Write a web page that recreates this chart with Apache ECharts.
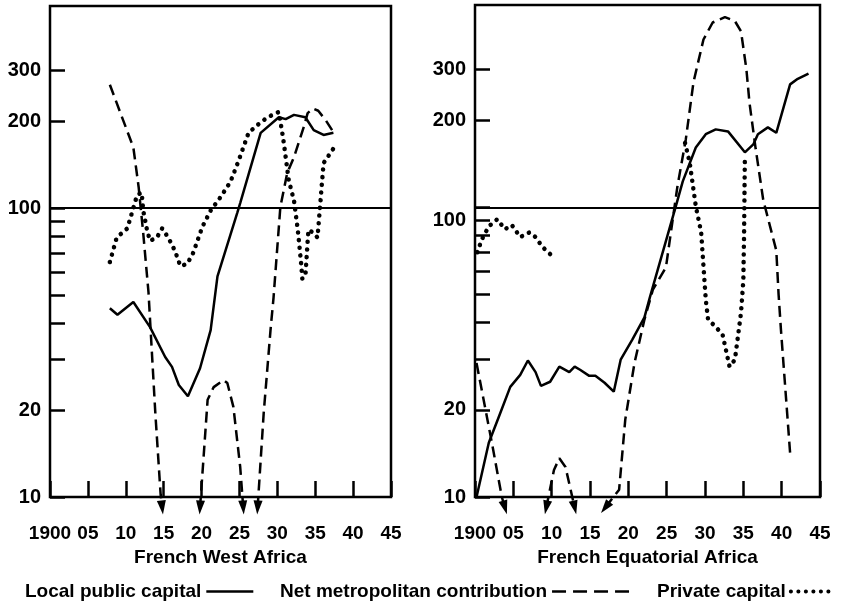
<!DOCTYPE html>
<html>
<head>
<meta charset="utf-8">
<script src="https://cdn.jsdelivr.net/npm/echarts@6/dist/echarts.min.js"></script>
<style>
html, body { margin: 0; padding: 0; background: #fff; }
#chart { width: 844px; height: 603px; }
</style>
</head>
<body>
<div id="chart"></div>
<script>
// 数据 [年份, 指数] ----------------
// French West Africa
var fwaLocal = [[1907.9,45],[1908.9,42.7],[1911,47.3],[1913.2,38.7],[1915.2,30.5],[1916.1,28.2],[1917,24.4],
	[1918.2,22.3],[1919.8,27.9],[1921.2,37.8],[1922.1,58],[1924.7,96],[1925.1,104],[1927.8,182],[1930.2,206],
	[1931.1,203],[1932.2,210],[1933.7,206],[1934.8,186],[1936.1,179],[1937.4,182]];
var fwaMetro1 = [[1907.9,267],[1911,162],[1911.7,118],[1912.3,82],[1913,51],[1913.9,19.5],[1914.6,10.2],[1914.8,9.2]];
var fwaMetro2 = [[1919.8,9.2],[1920.8,21.7],[1921.6,24],[1922.9,25.4],[1923.4,24.8],[1924.2,20.5],[1925.1,12.7],[1925.5,9.2]];
var fwaMetro3 = [[1927.4,9.2],[1928.2,19.5],[1929.1,37.8],[1929.5,49],[1930.4,101],[1931.3,132],[1932.2,150],
	[1933.5,191],[1934,213],[1934.7,221],[1935.4,217],[1936.4,201],[1937.4,183]];
var fwaPrivate = [[1907.9,65],[1908.8,79],[1910.2,85],[1910.8,96],[1911.5,111],[1912.1,113],[1912.3,98],[1912.8,84],
	[1913.2,77],[1914.1,79],[1914.8,85],[1915.6,79],[1916.5,71],[1917.2,63],[1918.1,64],[1918.9,70],[1920.1,86],
	[1921.2,98],[1922.5,109],[1923.8,123],[1924.9,146],[1926.2,182],[1927.4,194],[1928.7,206],[1930.2,215],
	[1930.8,172],[1931.5,125],[1932.2,106],[1932.7,84],[1933.1,66],[1933.3,57],[1933.7,58],[1934.1,84],
	[1934.8,82],[1935.3,79],[1935.7,106],[1936.1,143],[1937.5,162]];

// French Equatorial Africa
var feaLocal = [[1900.2,10],[1901.8,15.4],[1903.1,18.9],[1904.6,24],[1905.9,26.4],[1906.9,29.6],[1907.9,27],
	[1908.6,24.2],[1909.8,25],[1911,28.2],[1912.3,27],[1913,28.2],[1913.7,27.5],[1914.9,26.2],[1915.7,26.2],
	[1916.9,24.8],[1918.1,23.1],[1919,29.8],[1920.5,34.9],[1922.1,41.7],[1922.8,48.8],[1926.2,101],[1927.1,123],
	[1928.8,161],[1930.1,179],[1931.4,186],[1933,183],[1935.2,155],[1936.3,165],[1936.9,179],[1938.2,189],
	[1939.3,181],[1941.1,266],[1942.1,278],[1943.5,290]];
var feaMetro1 = [[1900.2,29],[1901.3,20.5],[1902.2,15.4],[1903.5,10],[1903.9,9.2]];
var feaMetro2 = [[1909.3,9.2],[1910.3,12.4],[1911,13.6],[1911.8,12.7],[1913,9.2]];
var feaMetro3 = [[1917,9.2],[1918.8,10.6],[1919.6,18.5],[1920.8,29],[1922.1,41],[1923.2,52],[1924.9,62],
	[1926.4,118],[1927.5,172],[1928.5,271],[1929.8,380],[1931,435],[1932.6,454],[1933.9,440],[1934.7,405],
	[1935.4,300],[1935.8,230],[1936.6,160],[1937.6,106],[1939.3,71],[1939.6,50],[1939.9,38],[1941.1,14.2]];
var feaPrivate1 = [[1900.3,70],[1900.9,77.6],[1901.8,86],[1902.9,91],[1903.9,84],[1904.8,87],[1905.9,79],
	[1907.1,82],[1907.9,79],[1908.8,73],[1909.8,69]];
var feaPrivate2 = [[1927.4,167],[1928,143],[1928.8,101],[1929.5,82],[1930.1,48],[1930.4,41],[1931.4,38.7],
	[1932.3,36.3],[1933.2,28.2],[1933.9,29.8],[1934.7,43.3],[1935,56],[1935.1,82],[1935.2,150]];

// 刻度
var yTickValues = [10, 20, 30, 40, 50, 60, 70, 80, 90, 100, 200, 300];
var yLabelsWest = [10, 20, 100, 200, 300];
var yLabelsEquatorial = [10, 20, 90, 200, 300];   // 原图 "100" 标在 90 的刻度上
var regionNames = ['French West Africa', 'French Equatorial Africa'];
var seriesNames = ['Local public capital', 'Net metropolitan contribution', 'Private capital'];

// 图表实例化------------------
var chart = echarts.init(document.getElementById('chart'));

var FONT = 'Liberation Sans, Arial, Helvetica, sans-serif';
var solidStyle = {color: '#000', width: 2.5, type: 'solid'};
var dashStyle = {color: '#000', width: 2.5, type: [11, 6]};
var dotStyle = {color: '#000', width: 4.5, type: [0.1, 7.6], cap: 'round'};

function xAxisOpt(gridIndex) {
	return {
		type: 'value', gridIndex: gridIndex, min: 1900, max: 1945, interval: 5,
		axisLine: {show: false},
		axisTick: {inside: true, length: 16, lineStyle: {color: '#000', width: 2.5}},
		axisLabel: {
			margin: 27, color: '#000', fontSize: 19, fontWeight: 'bold', fontFamily: FONT,
			formatter: function (v) { return v === 1900 ? '1900' : String(v).slice(2); }
		},
		splitLine: {show: false},
		name: regionNames[gridIndex], nameLocation: 'middle', nameGap: 50,
		nameTextStyle: {color: '#000', fontSize: 19, fontWeight: 'bold', fontFamily: FONT}
	};
}

function yAxisOpt(gridIndex, labels) {
	return {
		type: 'log', logBase: 10, gridIndex: gridIndex, min: 10, max: 500,
		axisLine: {show: false},
		axisTick: {inside: true, length: 15, customValues: yTickValues, lineStyle: {color: '#000', width: 2.5}},
		axisLabel: {
			customValues: labels, margin: 9, color: '#000', fontSize: 20, fontWeight: 'bold', fontFamily: FONT,
			formatter: function (v) { v = Math.round(v); return v === 90 ? '100' : String(v); }
		},
		splitLine: {show: false},
		minorTick: {show: false}
	};
}

var series = [];
function addSeries(name, segs, gridIndex, lineStyle) {
	segs.forEach(function (seg) {
		series.push({
			name: name, type: 'line', xAxisIndex: gridIndex, yAxisIndex: gridIndex,
			data: seg.map(function (p) { return {value: p}; }),
			symbol: 'none', showSymbol: true, clip: false, silent: true,
			lineStyle: lineStyle, itemStyle: {color: '#000'},
			emphasis: {disabled: true}, z: 3
		});
	});
}

addSeries(seriesNames[0], [fwaLocal], 0, solidStyle);
addSeries(seriesNames[1], [fwaMetro1, fwaMetro2, fwaMetro3], 0, dashStyle);
addSeries(seriesNames[2], [fwaPrivate], 0, dotStyle);
addSeries(seriesNames[0], [feaLocal], 1, solidStyle);
addSeries(seriesNames[1], [feaMetro1, feaMetro2, feaMetro3], 1, dashStyle);
addSeries(seriesNames[2], [feaPrivate1, feaPrivate2], 1, dotStyle);

// 100 基准线
series.forEach(function (s, i) {
	if (i === 0 || (s.xAxisIndex === 1 && s.name === seriesNames[0])) {
		s.markLine = {
			silent: true, symbol: 'none', label: {show: false},
			lineStyle: {color: '#000', width: 2, type: 'solid'},
			data: [{yAxis: 100}]
		};
	}
});

// 图例 (线在文字右侧)
function legendOpt(name, left, iconWidth, lineStyle) {
	return {
		data: [name], left: left, top: 582, align: 'right', selectedMode: false,
		itemWidth: iconWidth, itemHeight: 14, padding: 0,
		itemStyle: {opacity: 0},
		lineStyle: lineStyle,
		textStyle: {color: '#000', fontSize: 19, fontWeight: 'bold', fontFamily: FONT}
	};
}

var option = {
	animation: false,
	backgroundColor: '#fff',
	textStyle: {fontFamily: FONT},
	grid: [
		{left: 50, top: 6, width: 341, height: 491, show: true, borderColor: '#000', borderWidth: 2.5, backgroundColor: 'transparent'},
		{left: 475, top: 5, width: 345, height: 492, show: true, borderColor: '#000', borderWidth: 2.5, backgroundColor: 'transparent'}
	],
	xAxis: [xAxisOpt(0), xAxisOpt(1)],
	yAxis: [yAxisOpt(0, yLabelsWest), yAxisOpt(1, yLabelsEquatorial)],
	legend: [
		legendOpt(seriesNames[0], 25, 47, {color: '#000', width: 2.5, type: 'solid'}),
		legendOpt(seriesNames[1], 280, 77, {color: '#000', width: 2.5, type: [14, 7]}),
		legendOpt(seriesNames[2], 657, 42, {color: '#000', width: 4, type: [0.1, 7.4], cap: 'round'})
	],
	series: series
};
chart.setOption(option);

// 箭头 (低于 10 的点) ，按线段方向旋转
series.forEach(function (s, si) {
	var pts = s.data;
	pts.forEach(function (d, i) {
		if (d.value[1] >= 10) return;
		var j = i === 0 ? 1 : i - 1;
		var p = chart.convertToPixel({seriesIndex: si}, d.value);
		var q = chart.convertToPixel({seriesIndex: si}, pts[j].value);
		d.symbol = 'triangle';
		d.symbolSize = [9, 14];
		d.symbolRotate = Math.atan2(-(p[0] - q[0]), -(p[1] - q[1])) * 180 / Math.PI;
	});
});
chart.setOption({series: series});
</script>
</body>
</html>
